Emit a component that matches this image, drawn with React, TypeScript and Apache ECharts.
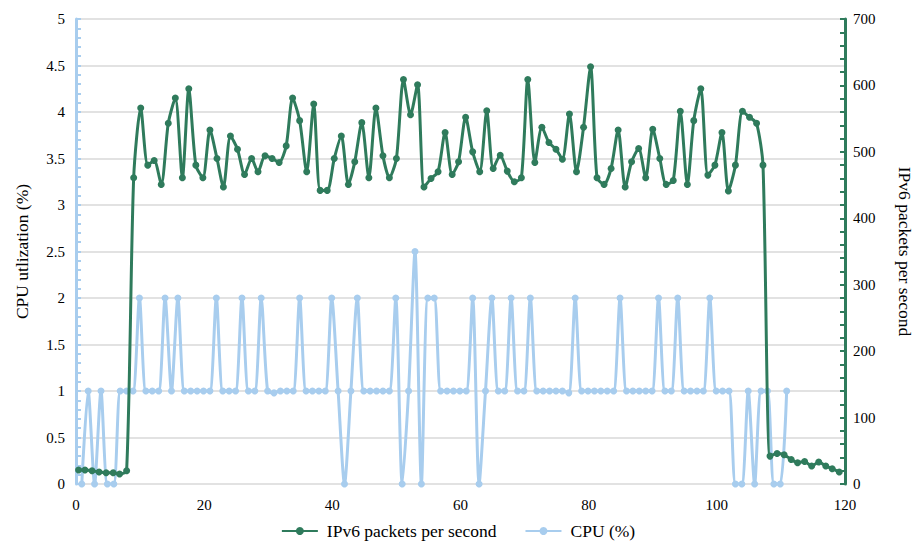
import React, { useEffect, useRef } from "react";
import * as echarts from "echarts";

const SERIES_PKT = "IPv6 packets per second";
const SERIES_CPU = "CPU (%)";

// Time (s) of each packet-rate sample
const pktTime = [
  0.4, 1.4, 2.5, 3.6, 4.7, 5.8, 6.8, 7.9, 9.0, 10.1,
  11.2, 12.2, 13.3, 14.4, 15.5, 16.6, 17.6, 18.7, 19.8, 20.9,
  22.0, 23.0, 24.1, 25.2, 26.3, 27.4, 28.4, 29.5, 30.6, 31.7,
  32.8, 33.8, 34.9, 36.0, 37.1, 38.1, 39.2, 40.3, 41.4, 42.5,
  43.5, 44.6, 45.7, 46.8, 47.9, 48.9, 50.0, 51.1, 52.2, 53.3,
  54.3, 55.4, 56.5, 57.6, 58.7, 59.7, 60.8, 61.9, 63.0, 64.1,
  65.1, 66.2, 67.3, 68.4, 69.5, 70.5, 71.6, 72.7, 73.8, 74.9,
  75.9, 77.0, 78.1, 79.2, 80.3, 81.3, 82.4, 83.5, 84.6, 85.7,
  86.7, 87.8, 88.9, 90.0, 91.1, 92.1, 93.2, 94.3, 95.4, 96.4,
  97.5, 98.6, 99.7, 100.8, 101.8, 102.9, 104.0, 105.1, 106.2, 107.2,
  108.3, 109.4, 110.5, 111.6, 112.6, 113.7, 114.8, 115.9, 117.0, 118.0,
  119.1,
];

// IPv6 packets per second
const pktValues = [
  21, 21, 20, 18, 17, 17, 15, 20, 461, 566,
  480, 487, 451, 543, 581, 461, 595, 480, 461, 533,
  490, 447, 524, 504, 466, 490, 470, 494, 490, 484,
  509, 581, 547, 470, 572, 442, 442, 490, 524, 451,
  485, 544, 461, 566, 494, 461, 490, 609, 556, 601,
  447, 460, 470, 529, 466, 485, 552, 500, 470, 562,
  475, 495, 471, 455, 461, 609, 484, 537, 514, 504,
  489, 557, 470, 537, 628, 461, 451, 475, 533, 447,
  485, 505, 461, 534, 490, 451, 457, 561, 451, 547,
  595, 465, 480, 529, 441, 480, 561, 552, 543, 480,
  42, 46, 44, 37, 32, 34, 27, 33, 27, 23,
  18,
];

// Time (s) of each CPU sample
const cpuTime = [
  0.9, 1.9, 2.9, 3.9, 4.9, 5.9, 6.9, 7.9, 8.9, 9.9,
  10.9, 11.9, 12.9, 13.9, 14.9, 15.9, 16.9, 17.9, 18.9, 19.9,
  20.9, 21.9, 22.9, 23.9, 24.9, 25.9, 26.9, 27.9, 28.9, 29.9,
  30.9, 31.9, 32.9, 33.9, 34.9, 35.9, 36.9, 37.9, 38.9, 39.9,
  40.9, 41.9, 42.9, 43.9, 44.9, 45.9, 46.9, 47.9, 48.9, 49.9,
  50.9, 51.9, 52.9, 53.9, 54.9, 55.9, 56.9, 57.9, 58.9, 59.9,
  60.9, 61.9, 62.9, 63.9, 64.9, 65.9, 66.9, 67.9, 68.9, 69.9,
  70.9, 71.9, 72.9, 73.9, 74.9, 75.9, 76.9, 77.9, 78.9, 79.9,
  80.9, 81.9, 82.9, 83.9, 84.9, 85.9, 86.9, 87.9, 88.9, 89.9,
  90.9, 91.9, 92.9, 93.9, 94.9, 95.9, 96.9, 97.9, 98.9, 99.9,
  100.9, 101.9, 102.9, 103.9, 104.9, 105.9, 106.9, 107.9, 108.9, 109.9,
  110.9,
];

// CPU utilization (%)
const cpuValues = [
  0, 1, 0, 1, 0, 0, 1, 1, 1, 2,
  1, 1, 1, 2, 1, 2, 1, 1, 1, 1,
  1, 2, 1, 1, 1, 2, 1, 1, 2, 1,
  0.98, 1, 1, 1, 2, 1, 1, 1, 1, 2,
  1, 0, 1, 2, 1, 1, 1, 1, 1, 2,
  0, 1, 2.5, 0, 2, 2, 1, 1, 1, 1,
  1, 2, 0, 1, 2, 1, 1, 2, 1, 1,
  2, 1, 1, 1, 1, 1, 0.98, 2, 1, 1,
  1, 1, 1, 1, 2, 1, 1, 1, 1, 1,
  2, 1, 1, 2, 1, 1, 1, 1, 2, 1,
  1, 1, 0, 0, 1, 0, 1, 1, 0, 0,
  1,
];

const GREEN = "#2f7b5c";
const BLUE = "#a8cdee";
const FONT = "'Times New Roman', 'Liberation Serif', 'DejaVu Serif', serif";

export default function App() {
  const ref = useRef<HTMLDivElement>(null);

  useEffect(() => {
    document.body.style.margin = "0";
    if (!ref.current) return;
    const chart = echarts.init(ref.current, undefined, { renderer: "svg" });
    const pktData = pktTime.map((t, i) => [t, pktValues[i]]);
    const cpuData = cpuTime.map((t, i) => [t, cpuValues[i]]);

    const label = { fontFamily: FONT, fontSize: 15, color: "#000" };
    const nameStyle = { fontFamily: FONT, fontSize: 17.5, color: "#000" };

    chart.setOption({
      animation: false,
      backgroundColor: "#ffffff",
      textStyle: { fontFamily: FONT, color: "#000" },
      grid: {
        left: 76,
        right: 71,
        top: 19,
        bottom: 60,
        containLabel: false,
        outerBoundsMode: "none",
      },
      legend: {
        top: 522,
        left: "center",
        padding: 0,
        itemWidth: 36,
        itemHeight: 10,
        itemGap: 28,
        data: [SERIES_PKT, SERIES_CPU],
        textStyle: { fontFamily: FONT, fontSize: 17.5, color: "#000", padding: [0, 0, 0, 4] },
      },
      xAxis: {
        type: "value",
        min: 0,
        max: 120,
        interval: 20,
        axisLine: { show: false },
        axisTick: { show: false },
        splitLine: { show: false },
        axisLabel: { ...label, margin: 13 },
      },
      yAxis: [
        {
          type: "value",
          name: "CPU utlization (%)",
          nameLocation: "middle",
          nameGap: 45,
          nameTextStyle: nameStyle,
          min: 0,
          max: 5,
          interval: 0.5,
          position: "left",
          axisLine: { show: true, lineStyle: { color: BLUE, width: 3 } },
          axisTick: { show: true, inside: true, length: 5, lineStyle: { color: BLUE, width: 2 } },
          minorTick: { show: true, splitNumber: 5, length: 5, lineStyle: { color: BLUE, width: 2 } },
          splitLine: { show: true, lineStyle: { color: "#d9d9d9", width: 1.5 } },
          axisLabel: { ...label, margin: 11 },
        },
        {
          type: "value",
          name: "IPv6 packets per second",
          nameLocation: "middle",
          nameGap: 51,
          nameRotate: -90,
          nameTextStyle: nameStyle,
          min: 0,
          max: 700,
          interval: 100,
          position: "right",
          axisLine: { show: true, lineStyle: { color: GREEN, width: 3 } },
          axisTick: { show: true, inside: true, length: 5, lineStyle: { color: GREEN, width: 2 } },
          minorTick: { show: true, splitNumber: 5, length: 5, lineStyle: { color: GREEN, width: 2 } },
          splitLine: { show: false },
          axisLabel: { ...label, margin: 8 },
        },
      ],
      series: [
        {
          name: SERIES_CPU,
          type: "line",
          yAxisIndex: 0,
          data: cpuData,
          smooth: 0.25,
          symbol: "circle",
          symbolSize: 7,
          lineStyle: { color: BLUE, width: 3 },
          itemStyle: { color: BLUE },
          z: 2,
        },
        {
          name: SERIES_PKT,
          type: "line",
          yAxisIndex: 1,
          data: pktData,
          smooth: 0.25,
          symbol: "circle",
          symbolSize: 7,
          lineStyle: { color: GREEN, width: 3 },
          itemStyle: { color: GREEN },
          z: 3,
        },
      ],
    });

    return () => chart.dispose();
  }, []);

  return <div ref={ref} style={{ width: 916, height: 544 }} />;
}
